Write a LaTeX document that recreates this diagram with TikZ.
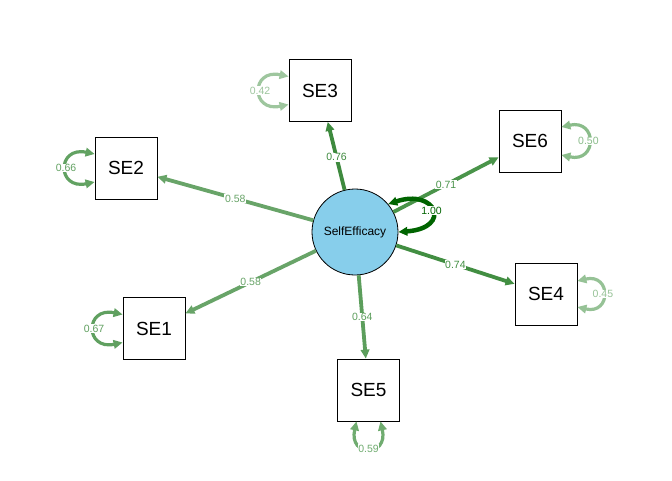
\documentclass[tikz,border=0pt]{standalone}
\usepackage{fontspec}
\setmainfont{Liberation Sans}
\usetikzlibrary{arrows.meta,calc}
\definecolor{skyb}{RGB}{135,206,235}
\definecolor{cA}{RGB}{62,138,62}
\definecolor{cB}{RGB}{66,142,66}
\definecolor{cC}{RGB}{74,148,74}
\definecolor{cD}{RGB}{92,158,92}
\definecolor{cE}{RGB}{104,164,104}
\definecolor{r42}{RGB}{158,198,158}
\definecolor{r45}{RGB}{150,194,150}
\definecolor{r50}{RGB}{138,188,138}
\definecolor{r59}{RGB}{112,172,112}
\definecolor{r66}{RGB}{98,162,98}
\definecolor{r67}{RGB}{96,160,96}
\definecolor{dg}{RGB}{0,100,0}
\tikzset{
  obs/.style={draw=black, line width=0.8pt, fill=white, minimum width=62pt, minimum height=62pt, inner sep=0pt, font=\fontsize{19}{19}\selectfont},
  lat/.style={circle, draw=black, line width=0.8pt, fill=skyb, minimum size=86pt, inner sep=0pt, font=\fontsize{12}{12}\selectfont},
  tip/.tip={Triangle[length=9pt,width=8.5pt]},
  load/.style={-tip, line width=3.8pt},
  res/.style={tip-tip, line width=3.2pt},
  lab/.style={fill=white, inner sep=0.6pt, font=\fontsize{10.5}{10.5}\selectfont}
}
\begin{document}
\begin{tikzpicture}[x=1pt,y=-1pt]
\useasboundingbox (0,0) rectangle (672,480);
\node[lat] (SE) at (355,232) {SelfEfficacy};
\node[obs] (SE3) at (320,90.5) {SE3};
\node[obs] (SE2) at (126,168) {SE2};
\node[obs] (SE6) at (530,141) {SE6};
\node[obs] (SE4) at (546,294) {SE4};
\node[obs] (SE1) at (154,328.5) {SE1};
\node[obs] (SE5) at (368.5,390) {SE5};
% loadings
\draw[load, cA] (SE) -- node[lab, pos=0.48, text=cA] {0.76} (SE3);
\draw[load, cE] (SE) -- node[lab, pos=0.5, text=cE] {0.58} (SE2);
\draw[load, cC] (SE) -- node[lab, pos=0.5, text=cC] {0.71} (SE6);
\draw[load, cB] (SE) -- node[lab, pos=0.5, text=cB] {0.74} (SE4);
\draw[load, cE] (SE) -- node[lab, pos=0.5, text=cE] {0.58} (SE1);
\draw[load, cD] (SE) -- node[lab, pos=0.5, text=cD] {0.64} (SE5);
% residual loops
\draw[res, r42] ($(SE3.west)+(0,-14)$) .. controls +(-38,-8) and +(-38,8) .. node[lab, text=r42] {0.42} ($(SE3.west)+(0,14)$);
\draw[res, r66] ($(SE2.west)+(0,-14)$) .. controls +(-38,-8) and +(-38,8) .. node[lab, text=r66] {0.66} ($(SE2.west)+(0,14)$);
\draw[res, r67] ($(SE1.west)+(0,-14)$) .. controls +(-38,-8) and +(-38,8) .. node[lab, text=r67] {0.67} ($(SE1.west)+(0,14)$);
\draw[res, r50] ($(SE6.east)+(0,-14)$) .. controls +(36,-8) and +(36,8) .. node[lab, text=r50] {0.50} ($(SE6.east)+(0,14)$);
\draw[res, r45] ($(SE4.east)+(0,-13)$) .. controls +(34,-8) and +(34,8) .. node[lab, text=r45] {0.45} ($(SE4.east)+(0,13)$);
\draw[res, r59] ($(SE5.south)+(-12,0)$) .. controls +(-8,36) and +(8,36) .. node[lab, text=r59] {0.59} ($(SE5.south)+(12,0)$);
% latent variance loop
\draw[res, dg, line width=4.5pt] (SE.40) .. controls +(48,-16) and +(54,-4) .. node[lab, text=dg] {1.00} (SE.0);
\end{tikzpicture}
\end{document}
